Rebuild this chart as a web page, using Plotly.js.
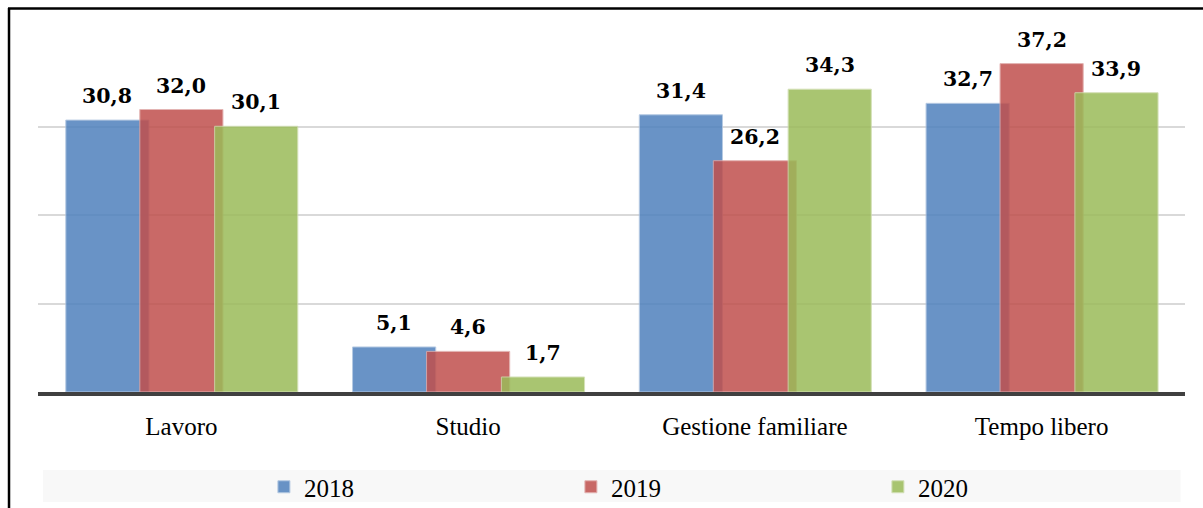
<!DOCTYPE html>
<html>
<head>
<meta charset="utf-8">
<script src="https://cdn.plot.ly/plotly-3.0.1.min.js"></script>
<style>html,body{margin:0;padding:0;background:#fff;}#chart{width:1203px;height:508px;}</style>
</head>
<body>
<div id="chart"></div>
<script>
// ---- data ----
const categories = ["Lavoro", "Studio", "Gestione familiare", "Tempo libero"];
const seriesNames = ["2018", "2019", "2020"];
const values2018 = [30.8, 5.1, 31.4, 32.7];
const values2019 = [32.0, 4.6, 26.2, 37.2];
const values2020 = [30.1, 1.7, 34.3, 33.9];

// ---- styling ----
const W = 1203, H = 508;
const M = {l: 38, r: 17.5, t: 38, b: 116, autoexpand: false};
const plotW = W - M.l - M.r, plotH = H - M.t - M.b;
const px2x = p => (p - M.l) / plotW;
const px2y = p => (H - M.b - p) / plotH;

const colors = ["#4F81BD", "#C0504D", "#9BBB59"];
const edgeColors = ["#a9c0de", "#dfa7a6", "#cddcac"];
const barWidth = 0.29;
const barOffsets = [-0.403, -0.145, 0.116];
const allValues = [values2018, values2019, values2020];

const serif = "DejaVu Serif";
const textSerif = "Liberation Serif";

const traces = allValues.map((vals, i) => ({
  type: "bar",
  name: seriesNames[i],
  x: categories,
  y: vals,
  width: barWidth,
  offset: barOffsets[i],
  opacity: 0.85,
  marker: {color: colors[i], line: {color: edgeColors[i], width: 1}},
  hoverinfo: "skip"
}));

const fmt = v => v.toFixed(1).replace(".", ",");
const annotations = [];
allValues.forEach((vals, i) => {
  vals.forEach((v, j) => {
    annotations.push({
      x: j + barOffsets[i] + barWidth / 2,
      y: v,
      xref: "x", yref: "y",
      text: fmt(v),
      showarrow: false,
      yanchor: "bottom",
      xanchor: "center",
      yshift: 10,
      font: {family: serif, size: 20.5, color: "#000", weight: "bold"}
    });
  });
});

const shapes = [
  // legend background band
  {type: "rect", xref: "paper", yref: "paper", layer: "below",
   x0: px2x(43), x1: px2x(1181), y0: px2y(502), y1: px2y(470),
   fillcolor: "#f8f8f8", line: {width: 0}},
  // outer frame: left and top
  {type: "line", xref: "paper", yref: "paper",
   x0: px2x(9), x1: px2x(9), y0: px2y(520), y1: px2y(8),
   line: {color: "#000", width: 2.5}},
  {type: "line", xref: "paper", yref: "paper",
   x0: px2x(8), x1: px2x(1215), y0: px2y(8.5), y1: px2y(8.5),
   line: {color: "#000", width: 2.5}}
];

const layout = {
  width: W, height: H,
  margin: M,
  font: {family: textSerif, size: 24, color: "#000"},
  paper_bgcolor: "#fff",
  plot_bgcolor: "rgba(0,0,0,0)",
  barmode: "overlay",
  separators: ",.",
  showlegend: true,
  legend: {
    orientation: "h",
    x: px2x(264), xanchor: "left",
    y: px2y(487), yanchor: "middle",
    bgcolor: "rgba(0,0,0,0)",
    font: {family: textSerif, size: 25, color: "#000"},
    entrywidth: 262,
    entrywidthmode: "pixels",
    traceorder: "normal"
  },
  xaxis: {
    type: "category",
    showline: true, linecolor: "#404040", linewidth: 3.5,
    ticks: "", showgrid: false, zeroline: false,
    tickfont: {family: textSerif, size: 25, color: "#000"},
    ticklabelstandoff: 9,
    range: [-0.5, 3.5],
    fixedrange: true
  },
  yaxis: {
    range: [0, 40.1], dtick: 10, tick0: 0,
    showgrid: true, gridcolor: "#d9d9d9", gridwidth: 2,
    showticklabels: false, ticks: "", zeroline: false, showline: false,
    fixedrange: true
  },
  annotations: annotations,
  shapes: shapes
};

Plotly.newPlot("chart", traces, layout, {displayModeBar: false, staticPlot: true});
</script>
</body>
</html>
